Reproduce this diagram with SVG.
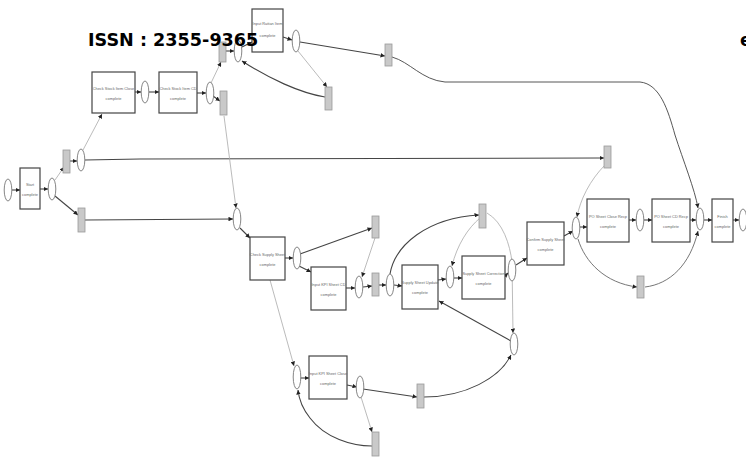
<svg xmlns="http://www.w3.org/2000/svg" width="746" height="463" viewBox="0 0 746 463">
<defs>
<marker id="a" viewBox="0 0 6 6" refX="6" refY="3" markerWidth="4.5" markerHeight="4.5" orient="auto" markerUnits="userSpaceOnUse"><path d="M0,0L6,3L0,6z" fill="#222"/></marker>
<style>
.pl{fill:#fff;stroke:#777;stroke-width:0.9}
.tr{fill:#c9c9c9;stroke:#999;stroke-width:0.8}
.bx{fill:#fff;stroke:#444;stroke-width:1.2}
.lb{font-family:"Liberation Sans",Arial,sans-serif;font-size:3.9px;fill:#666;text-anchor:middle}
.d{fill:none;stroke:#444;stroke-width:1.1;marker-end:url(#a)}
.t{fill:none;stroke:#aaa;stroke-width:0.8;marker-end:url(#a)}
.hd{font-family:"DejaVu Sans",sans-serif;font-weight:bold;font-size:17.6px;fill:#000}
</style>
</defs>
<rect width="746" height="463" fill="#fff"/>
<g id="connectors">
<path class="d" d="M12,190L20,190"/>
<path class="d" d="M40,189L48,189"/>
<path class="t" d="M55,180L64,167"/>
<path class="d" d="M55,196L78,215"/>
<path class="d" d="M70,161L77,161"/>
<path class="t" d="M83,150L102,114"/>
<path class="d" d="M85,160L140,159L600,158L604,158"/>
<path class="d" d="M135,92L141,92"/>
<path class="d" d="M149,92L159,92"/>
<path class="d" d="M197,93L206,93"/>
<path class="d" d="M213,96L220,101"/>
<path class="t" d="M211,83L221,62"/>
<path class="d" d="M226,51L234,51"/>
<path class="d" d="M242,47L252,42"/>
<path class="d" d="M283,37L292,40"/>
<path class="d" d="M300,42L385,56"/>
<path class="t" d="M298,51L327,87"/>
<path class="d" d="M325,97C300,93 268,78 242,61"/>
<path class="d" d="M392,57C410,62 422,80 445,82L640,82C660,84 668,110 675,135C683,160 695,190 698,208" style="stroke-width:0.9"/>
<path class="t" d="M224,116L236,208"/>
<path class="d" d="M85,220L233,219"/>
<path class="d" d="M240,228L250,238"/>
<path class="d" d="M285,258L293,258"/>
<path class="d" d="M300,254L372,228"/>
<path class="d" d="M299,266L311,272"/>
<path class="t" d="M375,238L362,277"/>
<path class="d" d="M346,288L355,288"/>
<path class="d" d="M363,287L372,286"/>
<path class="d" d="M379,285L386,285"/>
<path class="d" d="M394,285L402,286"/>
<path class="d" d="M390,274C395,245 427,218 479,215"/>
<path class="d" d="M438,280L446,279"/>
<path class="d" d="M454,278L462,278"/>
<path class="t" d="M480,218C468,228 457,245 452,266"/>
<path class="t" d="M487,213C503,222 510,245 512,262L513,333"/>
<path class="d" d="M505,276L508,273"/>
<path class="d" d="M516,265L527,258"/>
<path class="d" d="M511,341L439,301"/>
<path class="d" d="M424,397C465,397 500,378 511,355"/>
<path class="t" d="M270,280L294,366"/>
<path class="d" d="M300,378L309,378"/>
<path class="d" d="M347,385L357,387"/>
<path class="d" d="M363,389L417,397"/>
<path class="t" d="M361,397L372,432"/>
<path class="d" d="M372,446C352,446 325,438 310,418C302,408 299,400 298,390"/>
<path class="d" d="M564,236L573,231"/>
<path class="t" d="M605,165C590,180 580,200 577,217"/>
<path class="d" d="M580,227L587,227"/>
<path class="d" d="M629,220L636,220"/>
<path class="d" d="M644,220L652,220"/>
<path class="d" d="M690,220L696,220"/>
<path class="d" d="M704,220L712,220"/>
<path class="d" d="M733,220L739,220"/>
<path class="d" d="M578,239C585,262 605,283 637,287" style="stroke:#666;stroke-width:0.9"/>
<path class="d" d="M645,287C670,284 690,265 698,231" style="stroke:#666;stroke-width:0.9"/>
</g>
<g id="places">
<ellipse id="p0" class="pl" cx="8" cy="190" rx="3.8" ry="11"/>
<ellipse id="p1" class="pl" cx="52" cy="189" rx="3.8" ry="11"/>
<ellipse id="p2" class="pl" cx="81" cy="160" rx="3.8" ry="11"/>
<ellipse id="p3" class="pl" cx="145" cy="92" rx="3.8" ry="11"/>
<ellipse id="p4" class="pl" cx="210" cy="93" rx="3.8" ry="11"/>
<ellipse id="p5" class="pl" cx="238" cy="51" rx="3.8" ry="11"/>
<ellipse id="p6" class="pl" cx="296" cy="41" rx="3.8" ry="11"/>
<ellipse id="p7" class="pl" cx="237" cy="219" rx="3.8" ry="11"/>
<ellipse id="p8" class="pl" cx="297" cy="258" rx="3.8" ry="11"/>
<ellipse id="p9" class="pl" cx="359" cy="287" rx="3.8" ry="11"/>
<ellipse id="p10" class="pl" cx="390" cy="285" rx="3.8" ry="11"/>
<ellipse id="p11" class="pl" cx="450" cy="277" rx="3.8" ry="11"/>
<ellipse id="p12" class="pl" cx="512" cy="270" rx="3.8" ry="11"/>
<ellipse id="p13" class="pl" cx="514" cy="344" rx="3.8" ry="11"/>
<ellipse id="p14" class="pl" cx="297" cy="377" rx="3.8" ry="12"/>
<ellipse id="p15" class="pl" cx="360" cy="387" rx="3.8" ry="11"/>
<ellipse id="p16" class="pl" cx="576" cy="228" rx="3.8" ry="11"/>
<ellipse id="p17" class="pl" cx="640" cy="220" rx="3.8" ry="11"/>
<ellipse id="p18" class="pl" cx="700" cy="219" rx="3.8" ry="11"/>
<ellipse id="p19" class="pl" cx="743" cy="220" rx="3.8" ry="11"/>
</g>
<g id="transitions">
<rect id="t1" class="tr" x="63" y="150" width="7" height="23"/>
<rect id="t2" class="tr" x="78" y="208" width="7" height="24"/>
<rect id="t3" class="tr" x="220" y="91" width="7" height="24"/>
<rect id="t4" class="tr" x="219" y="42" width="7" height="20"/>
<rect id="t5" class="tr" x="325" y="87" width="7" height="23"/>
<rect id="t6" class="tr" x="385" y="44" width="7" height="22"/>
<rect id="t7" class="tr" x="372" y="216" width="7" height="22"/>
<rect id="t8" class="tr" x="372" y="273" width="7" height="23"/>
<rect id="t9" class="tr" x="604" y="146" width="7" height="22"/>
<rect id="t10" class="tr" x="637" y="276" width="7" height="22"/>
<rect id="t11" class="tr" x="479" y="204" width="7" height="24"/>
<rect id="t12" class="tr" x="417" y="384" width="7" height="24"/>
<rect id="t13" class="tr" x="372" y="432" width="7" height="24"/>
</g>
<g id="n-start"><rect class="bx" x="20" y="168" width="20" height="41"/><text class="lb" x="30" y="186">Start</text><text class="lb" x="30" y="196">complete</text></g>
<g id="n-csic"><rect class="bx" x="92" y="72" width="43" height="41"/><text class="lb" x="113.5" y="90">Check Stock Item Close</text><text class="lb" x="113.5" y="100">complete</text></g>
<g id="n-cscd"><rect class="bx" x="159" y="72" width="38" height="41"/><text class="lb" x="178" y="90">Check Stock Item CD</text><text class="lb" x="178" y="100">complete</text></g>
<g id="n-rattan"><rect class="bx" x="252" y="9" width="31" height="43"/><text class="lb" x="267.5" y="25">Input Rattan Item</text><text class="lb" x="267.5" y="37">complete</text></g>
<g id="n-css"><rect class="bx" x="250" y="237" width="35" height="43"/><text class="lb" x="267.5" y="256">Check Supply Sheet</text><text class="lb" x="267.5" y="266">complete</text></g>
<g id="n-kpicd"><rect class="bx" x="311" y="267" width="35" height="43"/><text class="lb" x="328.5" y="286">Input KPI Sheet CD</text><text class="lb" x="328.5" y="296">complete</text></g>
<g id="n-kpiclose"><rect class="bx" x="309" y="356" width="38" height="43"/><text class="lb" x="328" y="375">Input KPI Sheet Close</text><text class="lb" x="328" y="385">complete</text></g>
<g id="n-ssu"><rect class="bx" x="402" y="265" width="36" height="44"/><text class="lb" x="420" y="284">Supply Sheet Update</text><text class="lb" x="420" y="294">complete</text></g>
<g id="n-ssc"><rect class="bx" x="462" y="256" width="43" height="43"/><text class="lb" x="483.5" y="275">Supply Sheet Correction</text><text class="lb" x="483.5" y="285">complete</text></g>
<g id="n-conf"><rect class="bx" x="527" y="222" width="37" height="43"/><text class="lb" x="545.5" y="241">Confirm Supply Sheet</text><text class="lb" x="545.5" y="251">complete</text></g>
<g id="n-poclose"><rect class="bx" x="587" y="199" width="42" height="43"/><text class="lb" x="608" y="218">PO Sheet Close Recp</text><text class="lb" x="608" y="228">complete</text></g>
<g id="n-pocd"><rect class="bx" x="652" y="199" width="38" height="43"/><text class="lb" x="671" y="218">PO Sheet CD Recp</text><text class="lb" x="671" y="228">complete</text></g>
<g id="n-finish"><rect class="bx" x="712" y="199" width="21" height="43"/><text class="lb" x="722.5" y="218">Finish</text><text class="lb" x="722.5" y="228">complete</text></g>
<text class="hd" x="88" y="46">ISSN : 2355-9365</text>
<text class="hd" x="740" y="46">e</text>
</svg>
